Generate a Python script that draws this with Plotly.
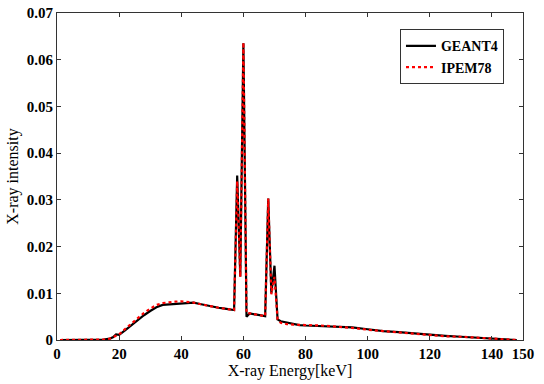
import plotly.graph_objects as go

# GEANT4 spectrum
geant_E = [1, 5, 10, 12, 15, 17, 18, 19, 20, 22, 24, 26, 28, 30, 32, 34, 36, 38, 40, 42, 44, 46, 48, 50,
           52, 54, 56, 57, 58, 59, 60, 61, 62, 64, 66, 67, 68, 69, 70, 71, 72, 74, 76, 78, 80, 85, 90,
           95, 100, 105, 110, 115, 120, 125, 130, 135, 140, 145, 148]
geant_I = [0.0, 0.0, 0.0, 0.00002, 0.0001, 0.0003, 0.0006, 0.0012, 0.0011, 0.0021, 0.0032, 0.0043,
           0.0053, 0.0062, 0.0070, 0.0075, 0.0076, 0.0076, 0.0077, 0.0079, 0.0080, 0.0077, 0.0074,
           0.0071, 0.0069, 0.0067, 0.0065, 0.0064, 0.0352, 0.0136, 0.0635, 0.0050, 0.0057, 0.0055,
           0.0053, 0.0051, 0.0303, 0.0100, 0.0159, 0.0044, 0.0040, 0.0037, 0.0034, 0.0032, 0.0031,
           0.0030, 0.0029, 0.0027, 0.0023, 0.0019, 0.0017, 0.0014, 0.0011, 0.0009, 0.0007, 0.0005,
           0.0003, 0.0001, 0.0]

# IPEM78 spectrum
ipem_E = [1, 5, 10, 12, 15, 17, 18, 19, 20, 22, 24, 26, 28, 30, 32, 34, 36, 38, 40, 42, 44, 46, 48, 50,
          52, 54, 56, 57, 58, 59, 60, 61, 62, 64, 66, 67, 68, 69, 70, 71, 72, 74, 76, 78, 80, 85, 90,
          95, 100, 105, 110, 115, 120, 125, 130, 135, 140, 145, 148]
ipem_I = [0.0, 0.0, 0.0, 0.00002, 0.0001, 0.0003, 0.0006, 0.0008, 0.0012, 0.0024, 0.0036, 0.0047,
          0.0058, 0.0067, 0.0075, 0.0079, 0.0081, 0.0082, 0.0083, 0.0082, 0.0080, 0.0077, 0.0074,
          0.0071, 0.0069, 0.0067, 0.0065, 0.0064, 0.0340, 0.0135, 0.0637, 0.0058, 0.0057, 0.0055,
          0.0053, 0.0051, 0.0303, 0.0098, 0.0135, 0.0044, 0.0037, 0.0034, 0.0033, 0.0032, 0.0032,
          0.0031, 0.0029, 0.0026, 0.0022, 0.0019, 0.0017, 0.0014, 0.0011, 0.0008, 0.0007, 0.0005,
          0.0003, 0.0001, 0.0]

x_ticks = [0, 20, 40, 60, 80, 100, 120, 140, 150]
y_ticks = [0, 0.01, 0.02, 0.03, 0.04, 0.05, 0.06, 0.07]
y_tick_labels = ["0", "0.01", "0.02", "0.03", "0.04", "0.05", "0.06", "0.07"]

FONT = "Liberation Serif"

fig = go.Figure()
fig.add_trace(go.Scatter(x=geant_E, y=geant_I, mode="lines", name="<b>GEANT4</b>",
                         line=dict(color="black", width=2.2)))
fig.add_trace(go.Scatter(x=ipem_E, y=ipem_I, mode="lines", name="<b>IPEM78</b>",
                         line=dict(color="red", width=2.2, dash="dot")))

axis_common = dict(showgrid=False, zeroline=False, showline=True, linecolor="#333333", linewidth=1.2,
                   mirror="ticks", ticks="inside", ticklen=4, tickcolor="#333333", automargin=False,
                   tickfont=dict(family=FONT, size=15, color="black", weight="bold"))

fig.update_layout(
    width=544, height=384,
    margin=dict(l=57, r=21, t=13, b=44),
    paper_bgcolor="white", plot_bgcolor="white",
    showlegend=True,
    font=dict(family=FONT),
    legend=dict(x=0.736, y=0.95, xanchor="left", yanchor="top",
                bgcolor="white", bordercolor="#333333", borderwidth=1,
                font=dict(family=FONT, size=14, color="black"),
                tracegroupgap=0, itemwidth=30),
    xaxis=dict(range=[0, 150], tickvals=x_ticks, ticktext=[str(v) for v in x_ticks],
               title=dict(text="X-ray Energy[keV]", font=dict(family=FONT, size=16, color="black"),
                          standoff=2),
               **axis_common),
    yaxis=dict(range=[0, 0.07], tickvals=y_ticks, ticktext=y_tick_labels,
               title=dict(text="X-ray intensity", font=dict(family=FONT, size=16, color="black"),
                          standoff=4),
               **axis_common),
)

fig.write_html("out.html", config={"displayModeBar": False},
               post_script="document.body.style.margin='0';document.body.style.padding='0';")
